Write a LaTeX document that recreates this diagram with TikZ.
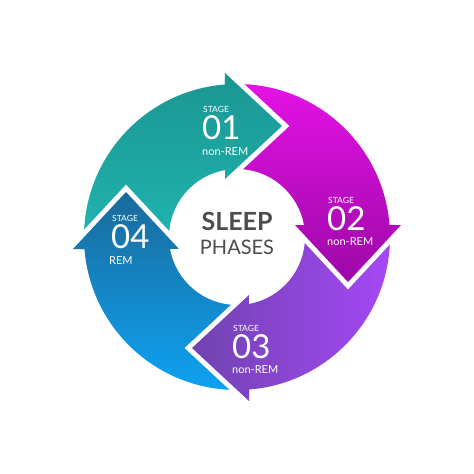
\documentclass[tikz,border=0pt]{standalone}
\usepackage{fontspec}
\setmainfont{Lato}
\definecolor{tealA}{HTML}{1B9692}
\definecolor{tealB}{HTML}{20B3AE}
\definecolor{magA}{HTML}{E412E4}
\definecolor{magB}{HTML}{9C08A8}
\definecolor{purA}{HTML}{7043B0}
\definecolor{purB}{HTML}{A548F5}
\definecolor{bluA}{HTML}{1A6A9A}
\definecolor{bluB}{HTML}{0EA2F2}
\definecolor{txtgray}{HTML}{4D4D4D}
\tikzset{
  segA/.style={top color=tealA, bottom color=tealB},
  segB/.style={top color=magA, bottom color=magB},
  segC/.style={left color=purA, right color=purB},
  segD/.style={top color=bluA, bottom color=bluB},
  gapline/.style={white, line width=10, line join=miter},
  stagelbl/.style={text=white, anchor=west, inner sep=0pt, font=\fontsize{8.5}{9}\selectfont},
  numlbl/.style={text=white, anchor=west, inner sep=0pt, font=\fontsize{33}{34}\selectfont},
  remlbl/.style={text=white, anchor=west, inner sep=0pt, font=\fontsize{11}{12}\selectfont},
}
\def\shapeA{(180:153) arc[start angle=180,end angle=94.5,radius=153] -- (-12,164) -- (45,111) -- (-12,58) -- (100.15:68) arc[start angle=100.15,end angle=180,radius=68] -- cycle}
\def\shapeB{(90:153) arc[start angle=90,end angle=4.5,radius=153] -- (164,12) -- (111,-45) -- (58,12) -- (10.15:68) arc[start angle=10.15,end angle=90,radius=68] -- cycle}
\def\shapeC{(0:153) arc[start angle=0,end angle=-85.5,radius=153] -- (12,-164) -- (-45,-111) -- (12,-58) -- (-79.85:68) arc[start angle=-79.85,end angle=0,radius=68] -- cycle}
\def\shapeD{(-90:153) arc[start angle=-90,end angle=-175.5,radius=153] -- (-164,-12) -- (-111,45) -- (-58,-12) -- (-169.85:68) arc[start angle=-169.85,end angle=-90,radius=68] -- cycle}
\begin{document}
\begin{tikzpicture}[x=1pt,y=1pt]
\fill[white] (-237,-237) rectangle (237,237);
\useasboundingbox (-237,-237) rectangle (237,237);
% bands with heads
\shade[segA] \shapeA;
\shade[segB] \shapeB;
\shade[segC] \shapeC;
\shade[segD] \shapeD;
% white gaps around heads
\draw[gapline] (-12,164) -- (45,111) -- (-12,58);
\draw[gapline] (164,12) -- (111,-45) -- (58,12);
\draw[gapline] (12,-164) -- (-45,-111) -- (12,-58);
\draw[gapline] (-164,-12) -- (-111,45) -- (-58,-12);
% restore heads
\begin{scope}\clip (-12,164) -- (45,111) -- (-12,58) -- cycle; \shade[segA] \shapeA;\end{scope}
\begin{scope}\clip (164,12) -- (111,-45) -- (58,12) -- cycle; \shade[segB] \shapeB;\end{scope}
\begin{scope}\clip (12,-164) -- (-45,-111) -- (12,-58) -- cycle; \shade[segC] \shapeC;\end{scope}
\begin{scope}\clip (-164,-12) -- (-111,45) -- (-58,-12) -- cycle; \shade[segD] \shapeD;\end{scope}
% labels
\node[stagelbl] (s1) at (-34,128) {STAGE};
\node[numlbl] (n1) at (-35,109) {01};
\node[remlbl] (r1) at (-35,85) {non-REM};
\node[stagelbl] (s2) at (91,37) {STAGE};
\node[numlbl] (n2) at (90,18) {02};
\node[remlbl] (r2) at (90,-5) {non-REM};
\node[stagelbl] (s3) at (-4,-91) {STAGE};
\node[numlbl] (n3) at (-5,-110) {03};
\node[remlbl] (r3) at (-5,-133) {non-REM};
\node[stagelbl] (s4) at (-125,19) {STAGE};
\node[numlbl] (n4) at (-126,0) {04};
\node[remlbl] (r4) at (-128,-24) {REM};
\node[text=txtgray, inner sep=0pt, font=\fontsize{25}{26}\bfseries\selectfont] (sleep) at (0,16) {SLEEP};
\node[text=txtgray, inner sep=0pt, font=\fontsize{20}{22}\selectfont] (phases) at (0,-10) {PHASES};
\end{tikzpicture}
\end{document}
